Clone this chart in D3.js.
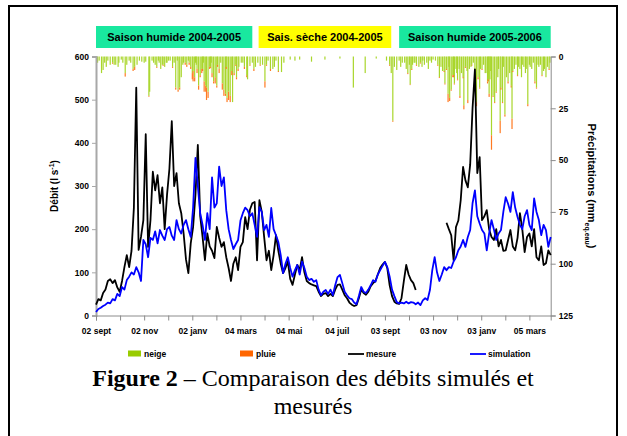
<!DOCTYPE html>
<html><head><meta charset="utf-8">
<script src="https://cdn.jsdelivr.net/npm/d3@7"></script>
<style>
html,body{margin:0;padding:0;background:#fff;}
svg{display:block;font-family:"Liberation Sans",Arial,sans-serif;}
</style></head>
<body><svg id="chart" width="627" height="436"></svg>
<script>
// ---------------- DATA ----------------
const startDate = "2004-09-02";
const endDate = "2006-04-01";
const stepDays = 3; // one value every 3 days from startDate

const tickLabels = ["02 sept","02 nov","02 janv","04 mars","04 mai","04 juil","03 sept","03 nov","03 janv","05 mars"];
const tickDates = ["2004-09-02","2004-11-02","2005-01-02","2005-03-04","2005-05-04","2005-07-04","2005-09-03","2005-11-03","2006-01-03","2006-03-05"];

const debitTicks = [0,100,200,300,400,500,600];
const precipTicks = [0,25,50,75,100,125];

const seasons = ["Saison humide 2004-2005","Sais. sèche 2004-2005","Saison humide 2005-2006"];
const seasonStart = ["2004-09-02","2005-03-27","2005-09-21"];
const seasonEnd = ["2005-03-19","2005-09-11","2006-04-01"];
const seasonColor = ["#19e89f","#ffff00","#19e89f"];

const simulation = [8,15,18,22,25,30,28,38,35,50,45,66,60,82,90,100,95,112,100,80,
175,165,135,180,175,195,167,198,185,175,200,205,185,175,221,200,190,210,221,200,
182,250,365,300,237,210,175,237,200,320,250,260,345,300,320,244,200,175,154,165,
175,220,237,250,244,230,237,210,182,251,240,198,210,182,249,200,186,170,140,98,
120,135,110,90,105,117,95,125,110,90,82,85,78,82,60,47,55,59,50,60,
47,70,89,94,75,55,47,40,38,30,26,45,66,55,52,60,70,82,78,95,
105,115,124,112,90,60,45,31,28,30,28,32,28,31,30,26,30,24,35,40,
36,59,105,135,100,80,95,112,105,112,110,125,135,151,160,175,159,182,198,260,
290,230,213,198,190,151,190,221,200,175,190,198,240,274,259,240,286,250,228,210,
200,230,244,210,198,271,240,221,186,210,198,159,182];

const mesure = [25,38,35,52,60,80,84,75,82,65,55,80,112,140,112,150,250,528,152,182,
221,420,159,221,333,290,325,260,297,200,280,340,450,300,330,260,237,190,130,98,
167,205,280,395,230,182,128,190,160,150,133,205,180,159,170,135,110,80,120,135,
105,159,170,228,200,245,260,263,128,267,240,182,128,150,105,140,186,150,120,98,
110,125,85,71,95,117,105,135,100,80,75,72,70,68,55,45,50,52,45,50,
45,60,71,72,60,47,40,30,25,22,24,40,60,52,48,55,68,75,80,95,
110,118,124,110,70,45,32,28,27,40,80,117,95,82,75,59,null,null,null,null,
null,null,null,null,null,null,null,null,215,200,186,128,205,220,267,344,313,297,350,480,
570,330,367,221,230,244,200,182,175,200,160,175,150,151,175,198,160,151,180,237,
200,147,182,190,160,200,135,128,160,117,121,151,140];

// precipitation events: day offset from startDate, snow (neige) and rain (pluie), mm
const precipDay = [2,7,9,13,18,21,23,28,29,37,39,47,49,58,67,68,75,77,80,82,85,87,90,94,
101,104,106,108,113,115,118,122,123,125,128,130,132,134,137,139,140,142,144,147,149,151,153,156,
160,162,164,166,168,170,173,175,178,181,184,191,192,198,205,208,211,214,218,224,228,235,246,252,258,273,290,309,
326,341,355,368,372,374,376,378,381,384,391,395,398,400,401,404,406,409,411,414,419,423,427,
433,435,437,439,442,444,446,448,450,452,454,456,458,461,463,466,468,471,473,476,478,482,484,486,489,491,
494,496,498,499,501,503,505,507,509,512,513,515,518,520,522,524,526,527,530,532,534,537,539,542,544,547,
549,552,554,556,558,561,563,565,567,570,572,574,
4,11,15,25,32,34,42,44,52,55,61,63,71,73,79,84,89,92,97,99,103,110,111,117,120,126,127,135,136,145,146,
154,158,165,172,177,180,186,188,195,200,202,216,221,226,231,238,
386,388,393,397,403,413,416,421,425,430,441,447,453,457,460,465,470,475,480,487,493,497,500,510,516,
528,535,540,545,550,560,568,575];
const neige = [3,8,6.5,5,4,3,4,5,3,8,4,6,5,2.5,19,17,4,5,3,6,4,5,3,2,
15,16,15,10,3,4,3,8,7,10,6,14,9,6,12,14,15,17,5,8,12,10,14,6,
13,16,18,20,17,19,22,8,10,5,3,9,11,3,3,4,4,12,2,6,2,7.5,1.5,2,1.5,2.5,1.5,1,
15,8,1,2,4,8,31,5,6.5,2,3,8,13.5,6,4,3,4,5,3,2,3,2,1.5,
4,10,5,7,13,6,18,20,16,9,13,6,11,19,8,23.5,5,21,6,4,3,22,10,15,6,4,
8,12,18,11,38,19,22,17,10,31,15,22,28,10,12,8,14,30,6,4,9,6,10,5,8,23,
4,6,3,12,15,5,4,9,7,10,5,6,
2,3,2,4,1.5,3,2,3,4,2,3,2.5,2,3,2,4,3,2,5,3,2,4,3,2,5,3,4,6,3,5,3,
4,3,5,7,4,6,3,5,4,6,5,4,6,5,7,3,
5,3,6,4,3,5,4,6,3,2,7,5,9,8,6,10,7,5,9,6,8,11,7,6,5,
7,5,4,6,5,4,6,3];
const pluie = [0,0,0,0,0,0.5,0,0,0,1.7,0,1,1.5,0,0.4,0,0,0.5,0,0,0.5,0,0,0,
1,1,1,0,1,1,1,3,5,2,2,2,1,2,5,3,6,3,1,2,1,3,1,2,
3,3,1,2,4,3,0,1,1,0,0,1,0,0,0,0.5,0,3,0,0,0,0,0,0,0,0,0,0,
0,0,0,0,0.5,0,0.5,0,0,0,0,0.5,0.3,0.5,0,0,0.5,0,0.4,0,0,0,0,
0.5,0.4,0,0,0.5,0.5,4,1.5,0.5,1,0.5,0,0.5,1,0,2,0.5,1.5,0,0.5,0,2,1,0.5,0.5,0,
0,1,1.5,0,7,0.5,0.5,0.5,0,6,1,0.5,1,0,1,0,1,5,0,0,0.5,0,0,0,0,1,
0,0,0,1,0.5,0,0,0.5,0,0,0,0.5,
0,0,0,0,0,0,0,0,0,0,0,0,0,0,0,0,0,0,0.5,0,0,0,0,0,1,0,0,1,0,0.5,0,
1,0,1,2,0.5,1,0,1,0.5,1,0,0.5,1,0,0.5,0,
0,0,0,0,0,0,0,0,0,0,0.5,0,1,0,0,0.5,0,0,0.5,0,0,1,0,0,0,
0.5,0,0,0,0,0,0,0];

const legendLabels = ["neige","pluie","mesure","simulation"];

// ---------------- DRAWING ----------------
const parse = d3.timeParse("%Y-%m-%d");
const t0 = parse(startDate), t1 = parse(endDate);
const svg = d3.select("#chart");

// outer frame
svg.append("rect").attr("x",9).attr("y",6).attr("width",608).attr("height",440)
  .attr("fill","none").attr("stroke","#000").attr("stroke-width",2);

const L = 96, R = 550.7, T = 56.5, B = 315.5;
const x = d3.scaleTime().domain([t0,t1]).range([L,R]);
const yL = d3.scaleLinear().domain([0,600]).range([B,T]);
const yR = d3.scaleLinear().domain([0,125]).range([T,B]);

// season bands
seasons.forEach((s,i)=>{
  const xs = x(parse(seasonStart[i])), xe = x(parse(seasonEnd[i]));
  svg.append("rect").attr("x",xs).attr("y",26).attr("width",xe-xs).attr("height",22)
    .attr("fill",seasonColor[i]);
  svg.append("text").attr("x",(xs+xe)/2).attr("y",41).attr("text-anchor","middle")
    .attr("font-size",11).attr("font-weight","bold").text(s);
});

// precipitation bars (hanging from top)
const gp = svg.append("g");
precipDay.forEach((d,i)=>{
  const dt = d3.timeDay.offset(t0,d);
  const xx = x(dt);
  gp.append("rect").attr("x",xx-0.6).attr("width",1.2)
    .attr("y",yR(0)).attr("height",yR(neige[i])-yR(0)).attr("fill","#a9d62c");
  if (pluie[i]>0) gp.append("rect").attr("x",xx-0.6).attr("width",1.2)
    .attr("y",yR(neige[i])).attr("height",yR(neige[i]+pluie[i])-yR(neige[i])).attr("fill","#ff7a22");
});

// axes
const gL = svg.append("g").attr("transform",`translate(${L},0)`)
  .call(d3.axisLeft(yL).tickValues(debitTicks).tickSize(4).tickPadding(3));
gL.select(".domain").attr("stroke","#a8a8a8").attr("stroke-width",2);
gL.selectAll(".tick line").attr("stroke","#a8a8a8");

const gR = svg.append("g").attr("transform",`translate(${R},0)`)
  .call(d3.axisRight(yR).tickValues(precipTicks).tickSize(5).tickPadding(3));
gR.select(".domain").attr("stroke","#8c8c8c");
gR.selectAll(".tick line").attr("stroke","#8c8c8c");

const majorT = tickDates.map(parse);
const allTicks = [];
majorT.forEach((d,i)=>{
  allTicks.push(d);
  if (i<majorT.length-1) allTicks.push(new Date((d.getTime()+majorT[i+1].getTime())/2));
});
const gB = svg.append("g").attr("transform",`translate(0,${B})`)
  .call(d3.axisBottom(x).tickValues(allTicks).tickSize(5).tickPadding(7)
    .tickFormat(d=>{const k = majorT.findIndex(m=>m.getTime()===d.getTime()); return k>=0?tickLabels[k]:"";}));
gB.select(".domain").attr("stroke","#8c8c8c");
gB.selectAll(".tick line").attr("stroke","#8c8c8c");

svg.selectAll(".tick text").attr("font-size",8.5).attr("font-weight","bold")
  .attr("fill","#000").attr("font-family","Liberation Sans, Arial, sans-serif");

// lines
const lineGen = d3.line().defined(d=>d.v!==null).x(d=>x(d.t)).y(d=>yL(d.v));
const toPts = arr => arr.map((v,i)=>({t:d3.timeDay.offset(t0,i*stepDays), v}));
svg.append("path").datum(toPts(mesure)).attr("d",lineGen)
  .attr("fill","none").attr("stroke","#000").attr("stroke-width",1.8).attr("stroke-linejoin","round");
svg.append("path").datum(toPts(simulation)).attr("d",lineGen)
  .attr("fill","none").attr("stroke","#0000ff").attr("stroke-width",1.8).attr("stroke-linejoin","round");

// axis titles
const tl = svg.append("text").attr("transform","translate(58,186) rotate(-90)")
  .attr("text-anchor","middle").attr("font-size",10).attr("font-weight","bold");
tl.append("tspan").text("Débit (l s");
tl.append("tspan").attr("dy",-4).attr("font-size",7).text("-1");
tl.append("tspan").attr("dy",4).text(")");

const tr = svg.append("text").attr("transform","translate(588,186) rotate(90)")
  .attr("text-anchor","middle").attr("font-size",11).attr("font-weight","bold");
tr.append("tspan").text("Précipitations (mm");
tr.append("tspan").attr("dy",3).attr("font-size",7).text("eq.eau");
tr.append("tspan").attr("dy",-3).text(")");

// legend
const lgY = 354;
const lgX = [128,240,348,470];
legendLabels.forEach((lab,i)=>{
  const g = svg.append("g");
  if (i<2) g.append("rect").attr("x",lgX[i]).attr("y",lgY-3.5).attr("width",13).attr("height",6)
    .attr("fill", i===0?"#99cc00":"#ff6600");
  else g.append("line").attr("x1",lgX[i]).attr("x2",lgX[i]+16).attr("y1",lgY).attr("y2",lgY)
    .attr("stroke", i===2?"#000":"#0000ff").attr("stroke-width",1.8);
  g.append("text").attr("x",lgX[i]+(i<2?16:18)).attr("y",lgY+3).attr("font-size",8.5)
    .attr("font-weight","bold").text(lab);
});

// caption
const cap = svg.append("text").attr("x",313).attr("y",386).attr("text-anchor","middle")
  .attr("font-family","Liberation Serif, Times New Roman, serif").attr("font-size",24);
cap.append("tspan").attr("font-weight","bold").text("Figure 2");
cap.append("tspan").text(" – Comparaison des débits simulés et");
svg.append("text").attr("x",313).attr("y",414).attr("text-anchor","middle")
  .attr("font-family","Liberation Serif, Times New Roman, serif").attr("font-size",24).text("mesurés");
</script></body></html>
